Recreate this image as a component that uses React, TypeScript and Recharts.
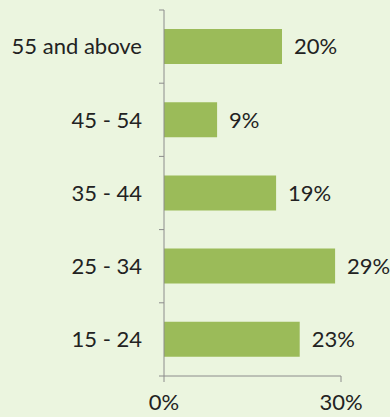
import React from "react";
import { BarChart, Bar, XAxis, YAxis, LabelList } from "recharts";

const ageGroups = ["55 and above", "45 - 54", "35 - 44", "25 - 34", "15 - 24"];
const shares = [20, 9, 19, 29, 23];
const xTicks = [0, 30];

const data = ageGroups.map((group, i) => ({ group, share: shares[i] }));

const FONT = "Lato, 'Liberation Sans', sans-serif";
const AXIS = "#8C8C8C";

// category tick: label on the left, tick marks at the band edges like Excel
function BandTick(props: any) {
  const { x, y, payload, index, visibleTicksCount } = props;
  const half = payload?.offset ?? 0;
  const axisX = x + 22;
  const isLast = index === (visibleTicksCount ?? ageGroups.length) - 1;
  return (
    <g>
      <line x1={axisX - 5} x2={axisX} y1={y - half} y2={y - half} stroke={AXIS} />
      {isLast && <line x1={axisX - 5} x2={axisX} y1={y + half} y2={y + half} stroke={AXIS} />}
      <text x={x} y={y} dy="0.355em" textAnchor="end" fill="#222" fontSize={22} fontFamily={FONT}>
        {payload.value}
      </text>
    </g>
  );
}

export default function App() {
  return (
    <div style={{ position: "absolute", left: 0, top: 0, width: 390, height: 417, background: "#EBF5DF" }}>
      <BarChart
        width={390}
        height={417}
        data={data}
        layout="vertical"
        margin={{ top: 10, right: 49, bottom: 0, left: 0 }}
      >
        <XAxis
          type="number"
          domain={[0, 30]}
          ticks={xTicks}
          tickFormatter={(v) => `${v}%`}
          height={41}
          tickSize={6}
          tickMargin={12}
          stroke={AXIS}
          tick={{ fill: "#222", fontSize: 22, fontFamily: FONT }}
        />
        <YAxis
          type="category"
          dataKey="group"
          width={164}
          stroke={AXIS}
          tickLine={false}
          tickSize={0}
          tickMargin={22}
          tick={<BandTick />}
        />
        <Bar dataKey="share" fill="#9BBB59" barSize={35} isAnimationActive={false}>
          <LabelList
            dataKey="share"
            position="right"
            offset={12}
            formatter={(v: any) => `${v}%`}
            style={{ fill: "#222", fontSize: 22, fontFamily: FONT }}
          />
        </Bar>
      </BarChart>
    </div>
  );
}
